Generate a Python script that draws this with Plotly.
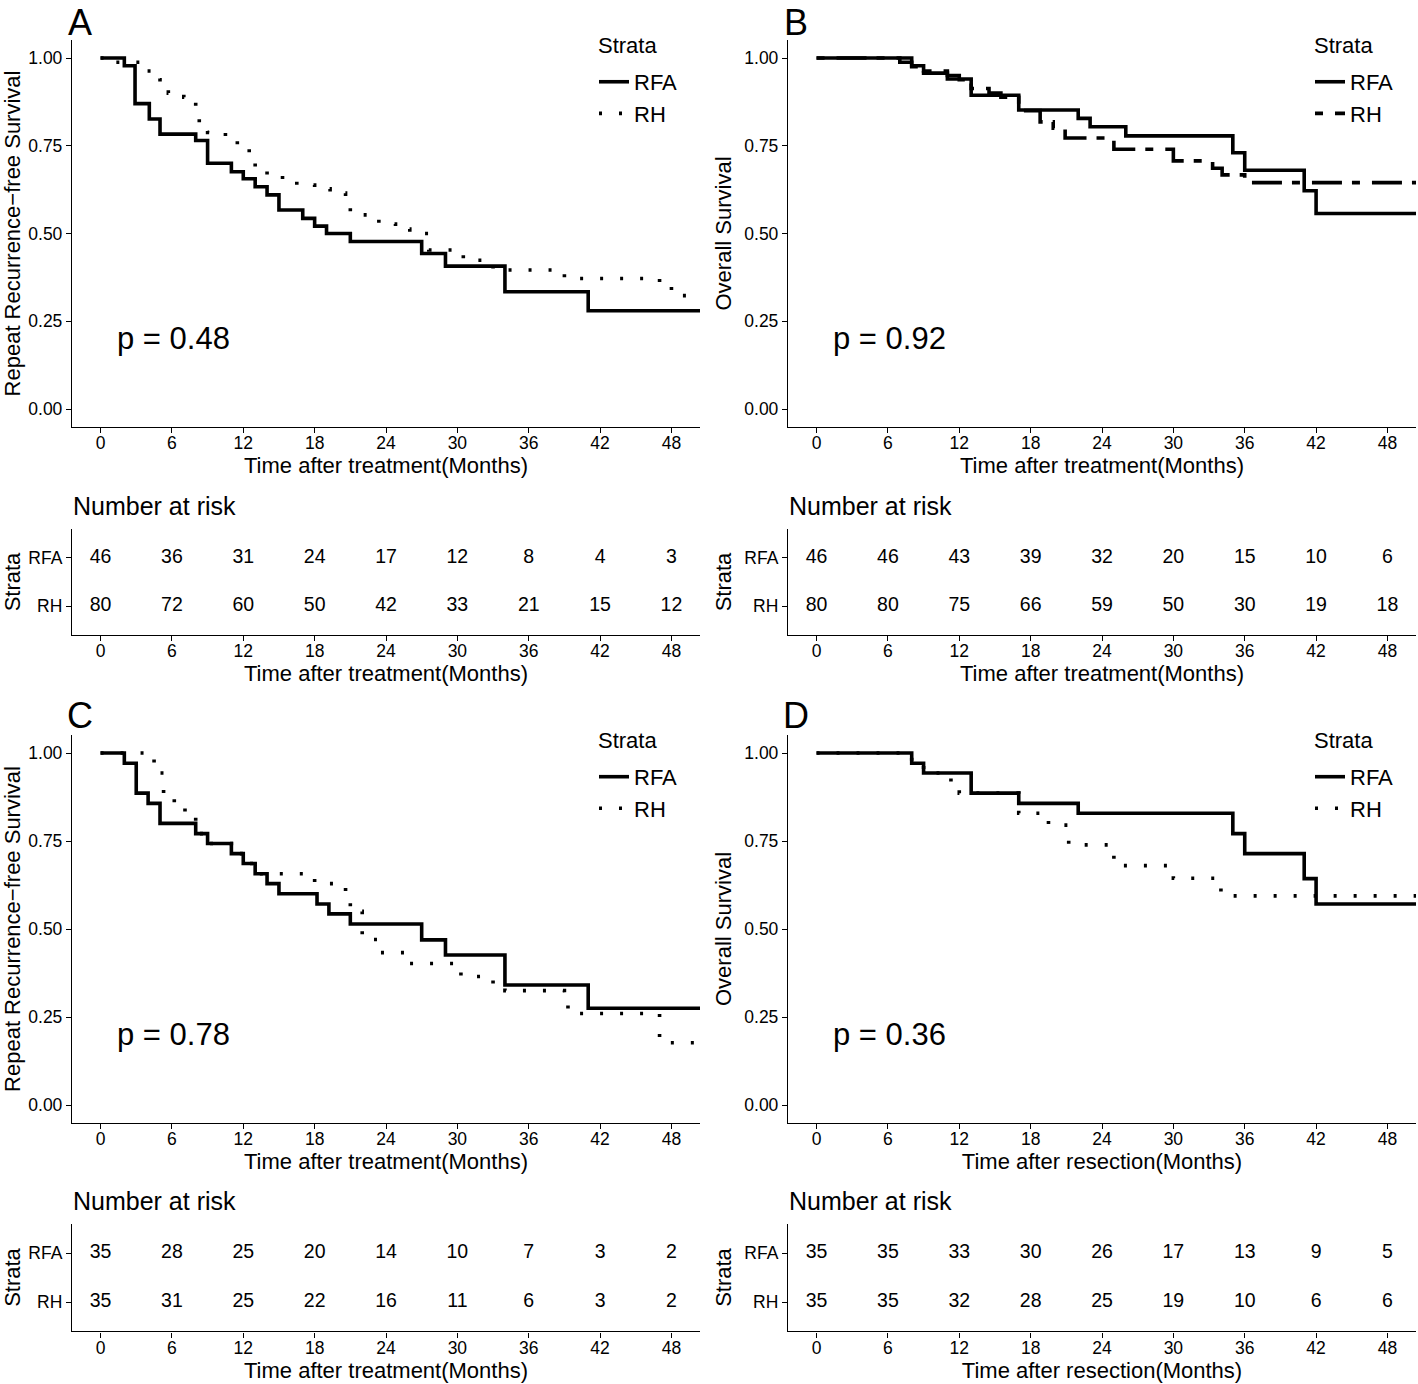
import plotly.graph_objects as go

FONT = "Liberation Sans, Arial, sans-serif"
W, H = 1418, 1384

# ---------------- data ----------------
time_ticks = [0, 6, 12, 18, 24, 30, 36, 42, 48]
strata = ["RFA", "RH"]
p_values = ["p = 0.48", "p = 0.92", "p = 0.78", "p = 0.36"]
panel_letters = ["A", "B", "C", "D"]

# Panel A: repeat recurrence-free survival
A_rfa_t = [0, 2, 2.9, 4.1, 5, 8, 9, 11, 12, 13, 14, 15, 17, 18, 19, 21, 27, 29, 34, 41, 52]
A_rfa_s = [1, 0.978, 0.870, 0.826, 0.783, 0.765, 0.700, 0.676, 0.656, 0.633, 0.610, 0.567,
           0.543, 0.521, 0.500, 0.477, 0.443, 0.407, 0.334, 0.280, 0.280]
A_rh_t = [0, 0.3, 3.6, 5, 5.7, 7, 8, 8.3, 9, 10.5, 11.5, 12.5, 13, 14, 15.3, 16.5, 18, 19.3,
          20.6, 21, 22, 23.4, 24.8, 26, 27.6, 30.5, 33, 39, 47, 48, 52]
A_rh_s = [1, 0.988, 0.963, 0.938, 0.900, 0.888, 0.863, 0.813, 0.788, 0.775, 0.750, 0.725,
          0.690, 0.667, 0.650, 0.638, 0.627, 0.615, 0.602, 0.560, 0.553, 0.527, 0.513, 0.500,
          0.453, 0.424, 0.396, 0.372, 0.348, 0.323, 0.323]
A_risk_rfa = [46, 36, 31, 24, 17, 12, 8, 4, 3]
A_risk_rh = [80, 72, 60, 50, 42, 33, 21, 15, 12]

# Panel B: overall survival
B_rfa_t = [0, 8, 9, 11, 13, 17, 22, 23, 26, 35, 36, 41, 42, 52]
B_rfa_s = [1, 0.978, 0.957, 0.940, 0.894, 0.852, 0.828, 0.804, 0.778, 0.730, 0.680, 0.622,
           0.557, 0.557]
B_rh_t = [0, 7, 8, 9, 11, 12, 13, 14.5, 15.5, 17, 18.8, 19.9, 20.9, 25, 30, 33.3, 34.1, 36, 52]
B_rh_s = [1, 0.988, 0.975, 0.963, 0.950, 0.938, 0.913, 0.900, 0.888, 0.850, 0.818, 0.800,
          0.772, 0.740, 0.707, 0.686, 0.667, 0.645, 0.645]
B_risk_rfa = [46, 46, 43, 39, 32, 20, 15, 10, 6]
B_risk_rh = [80, 80, 75, 66, 59, 50, 30, 19, 18]

# Panel C: repeat recurrence-free survival (matched)
C_rfa_t = [0, 2, 3, 4, 5, 8, 9, 11, 12, 13, 14, 15, 18.2, 19.2, 21, 27, 29, 34, 41, 52]
C_rfa_s = [1, 0.971, 0.886, 0.857, 0.800, 0.771, 0.743, 0.714, 0.686, 0.657, 0.629, 0.600,
           0.571, 0.543, 0.514, 0.469, 0.426, 0.341, 0.275, 0.275]
C_rh_t = [0, 4.5, 5, 5.3, 6.2, 7.1, 8, 9, 11, 12, 13, 18, 20.6, 21, 22, 23.5, 26, 30.3, 33,
          34, 39, 39.3, 47, 52]
C_rh_s = [1, 0.971, 0.943, 0.886, 0.857, 0.829, 0.771, 0.743, 0.714, 0.686, 0.657, 0.629,
          0.600, 0.550, 0.470, 0.433, 0.402, 0.365, 0.336, 0.325, 0.310, 0.260, 0.177, 0.177]
C_risk_rfa = [35, 28, 25, 20, 14, 10, 7, 3, 2]
C_risk_rh = [35, 31, 25, 22, 16, 11, 6, 3, 2]

# Panel D: overall survival (matched)
D_rfa_t = [0, 8, 9, 13, 17, 22, 35, 36, 41, 42, 52]
D_rfa_s = [1, 0.971, 0.943, 0.886, 0.857, 0.829, 0.771, 0.714, 0.643, 0.571, 0.571]
D_rh_t = [0, 8, 9, 11.3, 12, 17, 19.5, 21.2, 25, 30, 34, 52]
D_rh_s = [1, 0.971, 0.943, 0.914, 0.886, 0.829, 0.795, 0.739, 0.680, 0.644, 0.594, 0.594]
D_risk_rfa = [35, 35, 33, 30, 26, 17, 13, 9, 5]
D_risk_rh = [35, 35, 32, 28, 25, 19, 10, 6, 6]

# ---------------- styling ----------------
DOT = "3px,17px"
TWODASH = "8px,12px,30px,10px"

panels = [
    dict(col=0, row=0, rfa=(A_rfa_t, A_rfa_s), rh=(A_rh_t, A_rh_s), rh_dash=DOT,
         risk=(A_risk_rfa, A_risk_rh), ytitle="Repeat Recurrence\u2212free Survival",
         xtitle="Time after treatment(Months)"),
    dict(col=1, row=0, rfa=(B_rfa_t, B_rfa_s), rh=(B_rh_t, B_rh_s), rh_dash=TWODASH,
         risk=(B_risk_rfa, B_risk_rh), ytitle="Overall Survival",
         xtitle="Time after treatment(Months)"),
    dict(col=0, row=1, rfa=(C_rfa_t, C_rfa_s), rh=(C_rh_t, C_rh_s), rh_dash=DOT,
         risk=(C_risk_rfa, C_risk_rh), ytitle="Repeat Recurrence\u2212free Survival",
         xtitle="Time after treatment(Months)"),
    dict(col=1, row=1, rfa=(D_rfa_t, D_rfa_s), rh=(D_rh_t, D_rh_s), rh_dash=DOT,
         risk=(D_risk_rfa, D_risk_rh), ytitle="Overall Survival",
         xtitle="Time after resection(Months)"),
]

col_px = [(72, 700), (788, 1416)]
main_px = [(40.45, 426.55), (735.4, 1122.6)]
risk_px = [(529, 635), (1223.6, 1331.4)]


def xdom(px):
    return [px[0] / W, px[1] / W]


def ydom(px):
    return [1 - px[1] / H, 1 - px[0] / H]


def px_x(v):
    return v / W


def px_y(v):
    return 1 - v / H


fig = go.Figure()
layout = dict(
    width=W, height=H, margin=dict(l=0, r=0, t=0, b=0),
    paper_bgcolor="white", plot_bgcolor="white",
    font=dict(family=FONT, color="black", size=17),
    annotations=[],
)

axis_common = dict(showgrid=False, zeroline=False, showline=True, linecolor="black",
                   linewidth=1.3, ticks="outside", ticklen=5, tickwidth=1.2,
                   tickcolor="black", tickfont=dict(size=17.5, color="black", family=FONT),
                   mirror=False)

for i, p in enumerate(panels):
    m, r = 2 * i + 1, 2 * i + 2
    xm, ym = f"x{m}", f"y{m}"
    xr, yr = f"x{r}", f"y{r}"
    leg = "legend" if i == 0 else f"legend{i + 1}"
    cpx = col_px[p["col"]]
    mtop = main_px[p["row"]][0]

    # survival curves
    for name, (t, s), dash in [("RFA", p["rfa"], "solid"), ("RH", p["rh"], p["rh_dash"])]:
        fig.add_trace(go.Scatter(
            x=t, y=s, mode="lines", name=name, legend=leg,
            line=dict(shape="hv", color="black", width=3.6, dash=dash),
            xaxis=xm, yaxis=ym, hoverinfo="skip"))

    # risk table numbers
    for name, vals, ypos in [("RFA", p["risk"][0], 2), ("RH", p["risk"][1], 1)]:
        fig.add_trace(go.Scatter(
            x=time_ticks, y=[ypos] * len(time_ticks), mode="text",
            text=[str(v) for v in vals], textposition="middle center",
            textfont=dict(size=19.5, color="black", family=FONT),
            showlegend=False, xaxis=xr, yaxis=yr, hoverinfo="skip"))

    # axes
    layout[f"xaxis{m}"] = dict(axis_common, domain=xdom(cpx), range=[-2.4, 50.4],
                               tickvals=time_ticks, anchor=ym, ticklabelstandoff=-5,
                               title=dict(text=p["xtitle"], font=dict(size=22), standoff=3))
    layout[f"yaxis{m}"] = dict(axis_common, domain=ydom(main_px[p["row"]]), range=[-0.05, 1.05],
                               tickvals=[0, 0.25, 0.5, 0.75, 1.0],
                               ticktext=["0.00", "0.25", "0.50", "0.75", "1.00"], anchor=xm,
                               title=dict(text=p["ytitle"], font=dict(size=22), standoff=6))
    layout[f"xaxis{r}"] = dict(axis_common, domain=xdom(cpx), range=[-2.4, 50.4],
                               tickvals=time_ticks, anchor=yr, ticklabelstandoff=-5,
                               title=dict(text=p["xtitle"], font=dict(size=22), standoff=3))
    layout[f"yaxis{r}"] = dict(axis_common, domain=ydom(risk_px[p["row"]]), range=[0.4, 2.6],
                               tickvals=[2, 1], ticktext=strata, anchor=xr,
                               title=dict(text="Strata", font=dict(size=22), standoff=6))

    # legend (keys) + its title
    layout[leg] = dict(x=px_x(cpx[0] + 522), y=px_y(mtop + 20.5), xanchor="left", yanchor="top",
                       bgcolor="rgba(0,0,0,0)", font=dict(size=22, family=FONT, color="black"),
                       itemwidth=30, tracegroupgap=0)
    layout["annotations"].append(dict(
        x=px_x(cpx[0] + 524), y=px_y(mtop + 5.5), xref="paper", yref="paper", text="Strata",
        showarrow=False, xanchor="left", yanchor="middle",
        font=dict(size=22, family=FONT, color="black")))

    # p-value label
    layout["annotations"].append(dict(
        x=1.25, y=0.2, xref=xm, yref=ym, text=p_values[i], showarrow=False,
        xanchor="left", yanchor="middle", font=dict(size=31, family=FONT, color="black")))
    # panel letter
    layout["annotations"].append(dict(
        x=px_x(cpx[0] + 8), y=px_y(max(mtop - 42, 0)), xref="paper", yref="paper",
        text=panel_letters[i], showarrow=False, xanchor="center", yanchor="top",
        font=dict(size=36, family=FONT, color="black")))
    # risk table title
    layout["annotations"].append(dict(
        x=px_x(cpx[0] - 1), y=px_y(risk_px[p["row"]][0] - 23), xref="paper", yref="paper",
        text="Number at risk", showarrow=False, xanchor="left", yanchor="middle",
        font=dict(size=25, family=FONT, color="black")))

fig.update_layout(**layout)
fig.write_html("out.html", config={"displayModeBar": False},
               post_script="document.body.style.margin='0px';")
